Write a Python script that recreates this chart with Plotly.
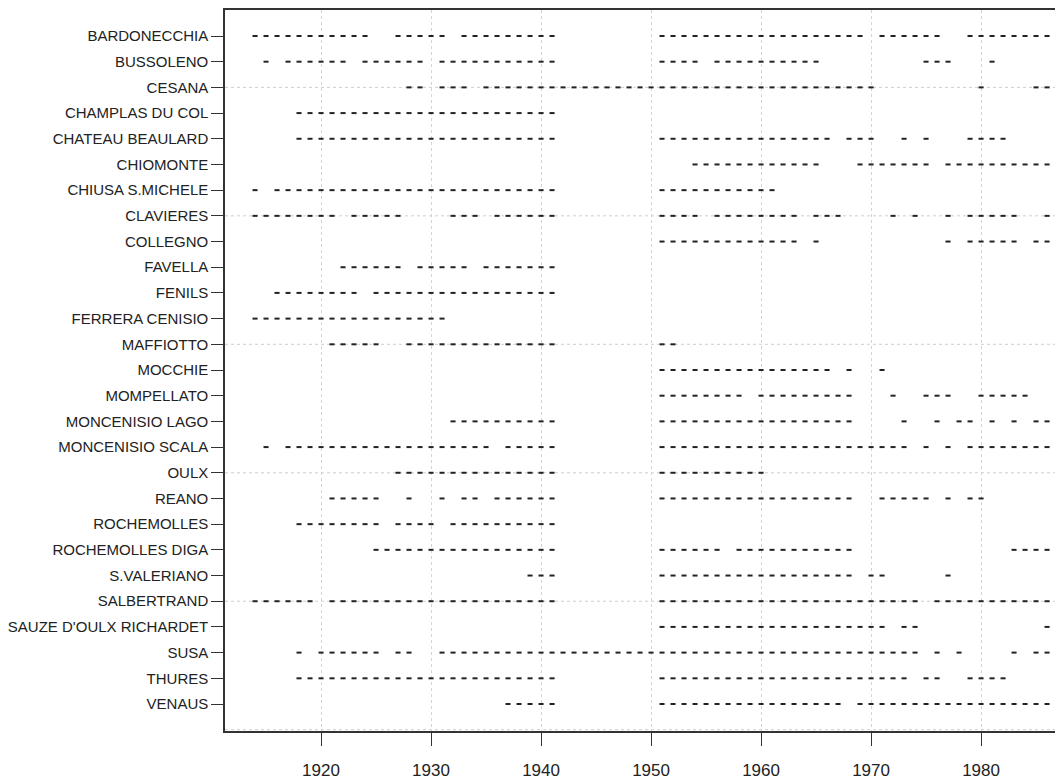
import plotly.graph_objects as go

# Station names, top to bottom
stations = ["BARDONECCHIA", "BUSSOLENO", "CESANA", "CHAMPLAS DU COL", "CHATEAU BEAULARD",
            "CHIOMONTE", "CHIUSA S.MICHELE", "CLAVIERES", "COLLEGNO", "FAVELLA", "FENILS",
            "FERRERA CENISIO", "MAFFIOTTO", "MOCCHIE", "MOMPELLATO", "MONCENISIO LAGO",
            "MONCENISIO SCALA", "OULX", "REANO", "ROCHEMOLLES", "ROCHEMOLLES DIGA",
            "S.VALERIANO", "SALBERTRAND", "SAUZE D'OULX RICHARDET", "SUSA", "THURES", "VENAUS"]

# Years with data, per station
bardonecchia = [1914, 1915, 1916, 1917, 1918, 1919, 1920, 1921, 1922, 1923, 1924,
                1927, 1928, 1929, 1930, 1931,
                1933, 1934, 1935, 1936, 1937, 1938, 1939, 1940, 1941,
                1951, 1952, 1953, 1954, 1955, 1956, 1957, 1958, 1959, 1960, 1961, 1962, 1963,
                1964, 1965, 1966, 1967, 1968, 1969,
                1971, 1972, 1973, 1974, 1975, 1976,
                1979, 1980, 1981, 1982, 1983, 1984, 1985, 1986]
bussoleno = [1915, 1917, 1918, 1919, 1920, 1921, 1922,
             1924, 1925, 1926, 1927, 1928, 1929,
             1931, 1932, 1933, 1934, 1935, 1936, 1937, 1938, 1939, 1940, 1941,
             1951, 1952, 1953, 1954,
             1956, 1957, 1958, 1959, 1960, 1961, 1962, 1963, 1964, 1965,
             1975, 1976, 1977, 1981]
cesana = [1928, 1929, 1931, 1932, 1933,
          1935, 1936, 1937, 1938, 1939, 1940, 1941, 1942, 1943, 1944, 1945, 1946, 1947,
          1948, 1949, 1950, 1951, 1952, 1953, 1954, 1955, 1956, 1957, 1958, 1959, 1960,
          1961, 1962, 1963, 1964, 1965, 1966, 1967, 1968, 1969, 1970,
          1980, 1985, 1986]
champlas = [1918, 1919, 1920, 1921, 1922, 1923, 1924, 1925, 1926, 1927, 1928, 1929,
            1930, 1931, 1932, 1933, 1934, 1935, 1936, 1937, 1938, 1939, 1940, 1941]
chateau_beaulard = [1918, 1919, 1920, 1921, 1922, 1923, 1924, 1925, 1926, 1927, 1928, 1929,
                    1930, 1931, 1932, 1933, 1934, 1935, 1936, 1937, 1938, 1939, 1940, 1941,
                    1951, 1952, 1953, 1954, 1955, 1956, 1957, 1958, 1959, 1960, 1961, 1962,
                    1963, 1964, 1965, 1966,
                    1968, 1969, 1970, 1973, 1975, 1979, 1980, 1981, 1982]
chiomonte = [1954, 1955, 1956, 1957, 1958, 1959, 1960, 1961, 1962, 1963, 1964, 1965,
             1969, 1970, 1971, 1972, 1973, 1974, 1975,
             1977, 1978, 1979, 1980, 1981, 1982, 1983, 1984, 1985, 1986]
chiusa = [1914, 1916, 1917, 1918, 1919, 1920, 1921, 1922, 1923, 1924, 1925, 1926, 1927,
          1928, 1929, 1930, 1931, 1932, 1933, 1934, 1935, 1936, 1937, 1938, 1939, 1940, 1941,
          1951, 1952, 1953, 1954, 1955, 1956, 1957, 1958, 1959, 1960, 1961]
clavieres = [1914, 1915, 1916, 1917, 1918, 1919, 1920, 1921,
             1923, 1924, 1925, 1926, 1927,
             1932, 1933, 1934,
             1936, 1937, 1938, 1939, 1940, 1941,
             1951, 1952, 1953, 1954,
             1956, 1957, 1958, 1959, 1960, 1961, 1962, 1963,
             1965, 1966, 1967, 1972, 1974, 1977,
             1979, 1980, 1981, 1982, 1983, 1986]
collegno = [1951, 1952, 1953, 1954, 1955, 1956, 1957, 1958, 1959, 1960, 1961, 1962, 1963,
            1965, 1977, 1979, 1980, 1981, 1982, 1983, 1985, 1986]
favella = [1922, 1923, 1924, 1925, 1926, 1927,
           1929, 1930, 1931, 1932, 1933,
           1935, 1936, 1937, 1938, 1939, 1940, 1941]
fenils = [1916, 1917, 1918, 1919, 1920, 1921, 1922, 1923,
          1925, 1926, 1927, 1928, 1929, 1930, 1931, 1932, 1933, 1934, 1935, 1936, 1937,
          1938, 1939, 1940, 1941]
ferrera = [1914, 1915, 1916, 1917, 1918, 1919, 1920, 1921, 1922, 1923, 1924, 1925, 1926,
           1927, 1928, 1929, 1930, 1931]
maffiotto = [1921, 1922, 1923, 1924, 1925,
             1928, 1929, 1930, 1931, 1932, 1933, 1934, 1935, 1936, 1937, 1938, 1939, 1940, 1941,
             1951, 1952]
mocchie = [1951, 1952, 1953, 1954, 1955, 1956, 1957, 1958, 1959, 1960, 1961, 1962, 1963,
           1964, 1965, 1966, 1968, 1971]
mompellato = [1951, 1952, 1953, 1954, 1955, 1956, 1957, 1958,
              1960, 1961, 1962, 1963, 1964, 1965, 1966, 1967, 1968,
              1972, 1975, 1976, 1977, 1980, 1981, 1982, 1983, 1984]
moncenisio_lago = [1932, 1933, 1934, 1935, 1936, 1937, 1938, 1939, 1940, 1941,
                   1951, 1952, 1953, 1954, 1955, 1956, 1957, 1958, 1959, 1960, 1961, 1962,
                   1963, 1964, 1965, 1966, 1967, 1968,
                   1973, 1976, 1978, 1979, 1981, 1983, 1985, 1986]
moncenisio_scala = [1915, 1917, 1918, 1919, 1920, 1921, 1922, 1923, 1924, 1925, 1926, 1927,
                    1928, 1929, 1930, 1931, 1932, 1933, 1934, 1935,
                    1937, 1938, 1939, 1940, 1941,
                    1951, 1952, 1953, 1954, 1955, 1956, 1957, 1958, 1959, 1960, 1961, 1962,
                    1963, 1964, 1965, 1966, 1967, 1968, 1969, 1970, 1971, 1972, 1973,
                    1975, 1977, 1979, 1980, 1981, 1982, 1983, 1984, 1985, 1986]
oulx = [1927, 1928, 1929, 1930, 1931, 1932, 1933, 1934, 1935, 1936, 1937, 1938, 1939, 1940,
        1941, 1951, 1952, 1953, 1954, 1955, 1956, 1957, 1958, 1959, 1960]
reano = [1921, 1922, 1923, 1924, 1925, 1928, 1931, 1933, 1934,
         1936, 1937, 1938, 1939, 1940, 1941,
         1951, 1952, 1953, 1954, 1955, 1956, 1957, 1958, 1959, 1960, 1961, 1962, 1963,
         1964, 1965, 1966, 1967, 1968,
         1971, 1972, 1973, 1974, 1975, 1977, 1979, 1980]
rochemolles = [1918, 1919, 1920, 1921, 1922, 1923, 1924, 1925,
               1927, 1928, 1929, 1930,
               1932, 1933, 1934, 1935, 1936, 1937, 1938, 1939, 1940, 1941]
rochemolles_diga = [1925, 1926, 1927, 1928, 1929, 1930, 1931, 1932, 1933, 1934, 1935, 1936,
                    1937, 1938, 1939, 1940, 1941,
                    1951, 1952, 1953, 1954, 1955, 1956,
                    1958, 1959, 1960, 1961, 1962, 1963, 1964, 1965, 1966, 1967, 1968,
                    1983, 1984, 1985, 1986]
s_valeriano = [1939, 1940, 1941,
               1951, 1952, 1953, 1954, 1955, 1956, 1957, 1958, 1959, 1960, 1961, 1962,
               1963, 1964, 1965, 1966, 1967, 1968, 1970, 1971, 1977]
salbertrand = [1914, 1915, 1916, 1917, 1918, 1919,
               1921, 1922, 1923, 1924, 1925, 1926, 1927, 1928, 1929, 1930, 1931, 1932,
               1933, 1934, 1935, 1936, 1937, 1938, 1939, 1940, 1941,
               1951, 1952, 1953, 1954, 1955, 1956, 1957, 1958, 1959, 1960, 1961, 1962,
               1963, 1964, 1965, 1966, 1967, 1968, 1969, 1970, 1971, 1972, 1973, 1974,
               1976, 1977, 1978, 1979, 1980, 1981, 1982, 1983, 1984, 1985, 1986]
sauze = [1951, 1952, 1953, 1954, 1955, 1956, 1957, 1958, 1959, 1960, 1961, 1962, 1963,
         1964, 1965, 1966, 1967, 1968, 1969, 1970, 1971, 1973, 1974, 1986]
susa = [1918, 1920, 1921, 1922, 1923, 1924, 1925, 1927, 1928,
        1931, 1932, 1933, 1934, 1935, 1936, 1937, 1938, 1939, 1940, 1941, 1942, 1943,
        1944, 1945, 1946, 1947, 1948, 1949, 1950, 1951, 1952, 1953, 1954, 1955, 1956,
        1957, 1958, 1959, 1960, 1961, 1962, 1963, 1964, 1965, 1966, 1967, 1968, 1969,
        1970, 1971, 1972, 1973, 1974,
        1976, 1978, 1983, 1985, 1986]
thures = [1918, 1919, 1920, 1921, 1922, 1923, 1924, 1925, 1926, 1927, 1928, 1929, 1930,
          1931, 1932, 1933, 1934, 1935, 1936, 1937, 1938, 1939, 1940, 1941,
          1951, 1952, 1953, 1954, 1955, 1956, 1957, 1958, 1959, 1960, 1961, 1962, 1963,
          1964, 1965, 1966, 1967, 1968, 1969, 1970, 1971, 1972, 1973,
          1975, 1976, 1979, 1980, 1981, 1982]
venaus = [1937, 1938, 1939, 1940, 1941,
          1951, 1952, 1953, 1954, 1955, 1956, 1957, 1958, 1959, 1960, 1961, 1962, 1963,
          1964, 1965, 1966, 1967,
          1969, 1970, 1971, 1972, 1973, 1974, 1975, 1976, 1977, 1978, 1979, 1980, 1981,
          1982, 1983, 1984, 1985, 1986]

years_by_station = [bardonecchia, bussoleno, cesana, champlas, chateau_beaulard, chiomonte,
                    chiusa, clavieres, collegno, favella, fenils, ferrera, maffiotto, mocchie,
                    mompellato, moncenisio_lago, moncenisio_scala, oulx, reano, rochemolles,
                    rochemolles_diga, s_valeriano, salbertrand, sauze, susa, thures, venaus]

x_ticks = [1920, 1930, 1940, 1950, 1960, 1970, 1980]

n = len(stations)
xs, ys = [], []
for i, yrs in enumerate(years_by_station):
    yv = n - i
    xs.extend(yrs)
    ys.extend([yv] * len(yrs))

fig = go.Figure()
fig.add_trace(go.Scatter(
    x=xs, y=ys, mode="markers",
    marker=dict(symbol="line-ew", size=3.6, color="#222222",
                line=dict(width=2, color="#222222")),
    showlegend=False, hoverinfo="x+y"))

# dotted horizontal reference lines every 5 units
for yv in [0, 5, 10, 15, 20, 25]:
    fig.add_shape(type="line", xref="paper", x0=0, x1=1, yref="y", y0=yv, y1=yv,
                  line=dict(color="#cfcfcf", width=1, dash="dot"), layer="below")

# page body adds an 8px offset, so the figure is sized to fit the window
fig.update_layout(
    width=1055, height=775,
    margin=dict(l=217, r=0, t=2, b=52, autoexpand=False),
    paper_bgcolor="white", plot_bgcolor="white",
    font=dict(family="Liberation Sans, Arial, sans-serif", color="#222222"),
    xaxis=dict(range=[1911.27, 1987.45], tickvals=x_ticks,
               ticktext=[str(v) for v in x_ticks],
               showgrid=True, gridcolor="#d3d3d3", griddash="dot", gridwidth=1,
               zeroline=False, showline=True, mirror=True, linecolor="#333333",
               linewidth=1.5, ticks="outside", ticklen=13, tickcolor="#333333",
               tickwidth=1.2, tickfont=dict(size=17), ticklabelstandoff=10,
               automargin=False),
    yaxis=dict(range=[-0.051, 28.012], tickvals=list(range(n, 0, -1)), ticktext=stations,
               showgrid=False, zeroline=False, showline=True, linecolor="#333333",
               linewidth=1.5, ticks="outside", ticklen=12, tickcolor="#333333",
               tickwidth=1.2, tickfont=dict(size=15), automargin=False),
)

fig.write_html("out.html")
